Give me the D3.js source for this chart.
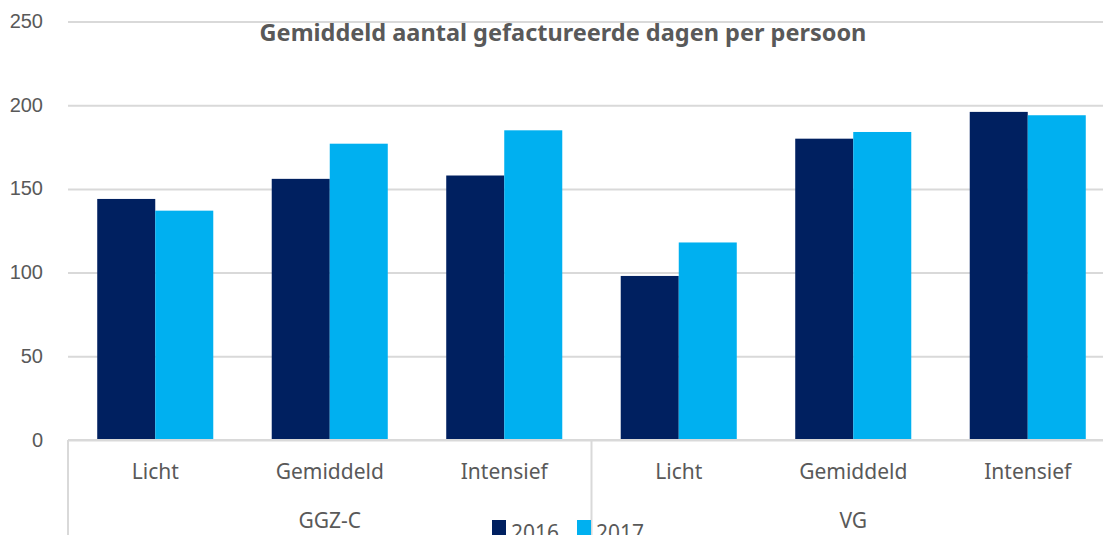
<!DOCTYPE html>
<meta charset="utf-8">
<title>Gefactureerde dagen</title>
<style>
    body { margin: 0; background: #fff; }
    svg { display: block; font-family: "Noto Sans", sans-serif; }
    .grid line { stroke: #d9d9d9; stroke-width: 2; }
    .grid .domain { display: none; }
    .tick text { fill: #595959; font-size: 20px; }
    .sep { stroke: #d9d9d9; stroke-width: 2; }
    .lbl { fill: #595959; font-size: 21px; text-anchor: middle; }
    .title { fill: #595959; font-size: 23.5px; font-weight: bold; text-anchor: middle; }
</style>
<body>
<script src="https://d3js.org/d3.v7.min.js"></script>
<script>
    var groups = ["GGZ-C", "VG"];
    var levels = ["Licht", "Gemiddeld", "Intensief"];
    var years = ["2016", "2017"];
    var values2016 = [144, 156, 158, 98, 180, 196];
    var values2017 = [137, 177, 185, 118, 184, 194];
    var yTicks = [0, 50, 100, 150, 200, 250];
    var colors = ["#002060", "#00b0f0"];

    var width = 1103, height = 535;
    var plotLeft = 68, plotRight = 1115, plotTop = 21.5, plotBottom = 440;

    var cats = [];
    groups.forEach(function(g) {
        levels.forEach(function(l) { cats.push(g + "|" + l); });
    });
    var data = cats.map(function(c, i) {
        return { cat: c, vals: [values2016[i], values2017[i]] };
    });

    var svg = d3.select("body").append("svg")
        .attr("width", width)
        .attr("height", height);

    var y = d3.scaleLinear().domain([0, 250]).range([plotBottom, plotTop]);
    var x = d3.scaleBand().domain(cats).range([plotLeft, plotRight]).paddingInner(0.335).paddingOuter(0.1675);
    var x1 = d3.scaleBand().domain(years).range([0, x.bandwidth()]);

    svg.append("g")
        .attr("class", "grid")
        .attr("transform", "translate(" + plotLeft + ",0)")
        .call(d3.axisLeft(y).tickValues(yTicks).tickSize(-(plotRight - plotLeft)).tickPadding(25))
        .selectAll(".tick text").attr("dy", "0.3em");

    svg.append("text")
        .attr("class", "title")
        .attr("x", 563)
        .attr("y", 41)
        .text("Gemiddeld aantal gefactureerde dagen per persoon");

    svg.append("g").selectAll("g")
        .data(data)
        .enter().append("g")
        .attr("transform", function(d) { return "translate(" + x(d.cat) + ",0)"; })
        .selectAll("rect")
        .data(function(d) { return d.vals.map(function(v, i) { return { year: years[i], v: v }; }); })
        .enter().append("rect")
        .attr("x", function(d) { return x1(d.year); })
        .attr("y", function(d) { return y(d.v); })
        .attr("width", x1.bandwidth())
        .attr("height", function(d) { return y(0) - y(d.v); })
        .attr("fill", function(d, i) { return colors[i]; });

    // axis line and group separators
    var step = x.step();
    svg.append("line").attr("class", "sep")
        .attr("x1", plotLeft).attr("x2", plotRight).attr("y1", y(0)).attr("y2", y(0));
    [0, 3, 6].forEach(function(k) {
        var xx = plotLeft + k * step;
        svg.append("line").attr("class", "sep")
            .attr("x1", xx).attr("x2", xx).attr("y1", y(0)).attr("y2", height);
    });

    // category labels
    svg.append("g").selectAll("text")
        .data(cats)
        .enter().append("text")
        .attr("class", "lbl")
        .attr("x", function(d) { return x(d) + x.bandwidth() / 2; })
        .attr("y", 479)
        .text(function(d) { return d.split("|")[1]; });

    // group labels
    svg.append("g").selectAll("text")
        .data(groups)
        .enter().append("text")
        .attr("class", "lbl")
        .attr("x", function(d, i) { return plotLeft + (i * 3 + 1.5) * step; })
        .attr("y", 528)
        .text(function(d) { return d; });

    // legend (cut off at the bottom edge, as in the source image)
    var legendX = [492, 577];
    var legend = svg.append("g").selectAll("g")
        .data(years)
        .enter().append("g")
        .attr("transform", function(d, i) { return "translate(" + legendX[i] + ",0)"; });
    legend.append("rect")
        .attr("x", 0).attr("y", 520).attr("width", 14).attr("height", 15)
        .attr("fill", function(d, i) { return colors[i]; });
    legend.append("text")
        .attr("x", 19).attr("y", 540)
        .attr("fill", "#595959")
        .attr("font-size", "21px")
        .text(function(d) { return d; });
</script>
</body>
